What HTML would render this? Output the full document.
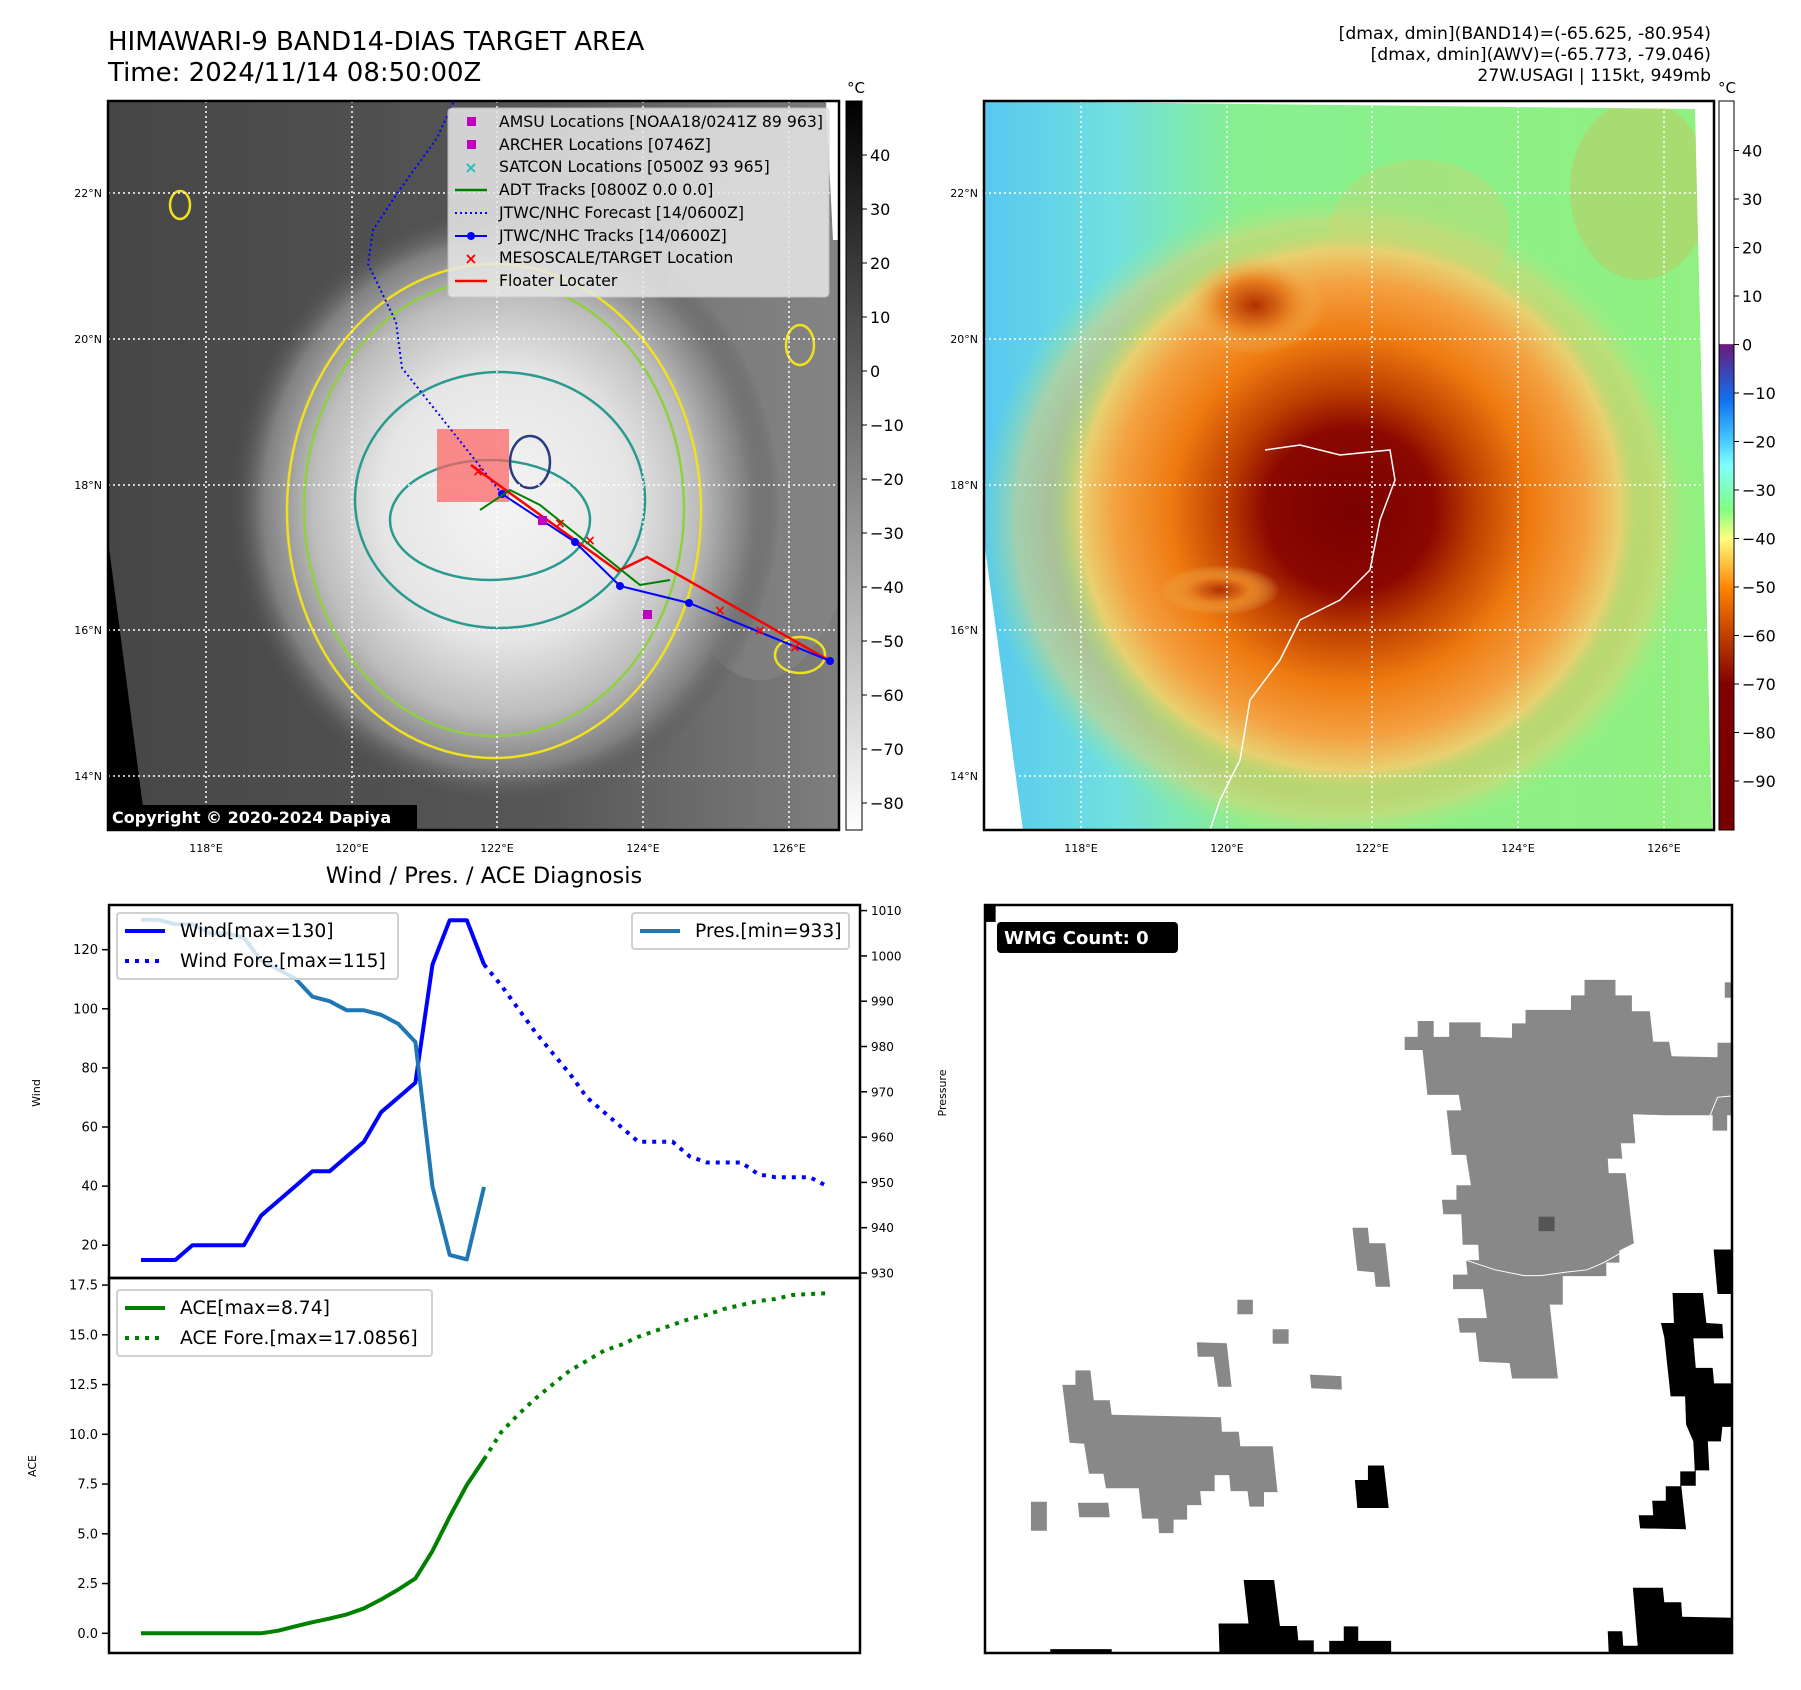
<!DOCTYPE html>
<html><head><meta charset="utf-8">
<style>
html,body{margin:0;padding:0;background:#fff;}
svg{display:block;font-family:"DejaVu Sans","Liberation Sans",sans-serif;}
</style></head>
<body>
<svg id="fig" width="1801" height="1690" viewBox="0 0 1801 1690" xmlns="http://www.w3.org/2000/svg">
<defs>
  <radialGradient id="irStorm" cx="0.5" cy="0.5" r="0.5">
    <stop offset="0" stop-color="#f4f4f4"/>
    <stop offset="0.45" stop-color="#e6e6e6"/>
    <stop offset="0.7" stop-color="#bdbdbd"/>
    <stop offset="0.88" stop-color="#808080"/>
    <stop offset="1" stop-color="#505050" stop-opacity="0"/>
  </radialGradient>
  <linearGradient id="irTop" x1="0" y1="0" x2="1" y2="0">
    <stop offset="0" stop-color="#444"/>
    <stop offset="0.6" stop-color="#5e5e5e"/>
    <stop offset="1" stop-color="#9a9a9a"/>
  </linearGradient>
  <radialGradient id="colStorm" cx="0.5" cy="0.5" r="0.5">
    <stop offset="0" stop-color="#7a0000"/>
    <stop offset="0.28" stop-color="#8a0800"/>
    <stop offset="0.42" stop-color="#c04000"/>
    <stop offset="0.6" stop-color="#ee7a10"/>
    <stop offset="0.78" stop-color="#f4a040"/>
    <stop offset="0.9" stop-color="#e8d070"/>
    <stop offset="1" stop-color="#90f080" stop-opacity="0"/>
  </radialGradient>
  <radialGradient id="colBlob" cx="0.5" cy="0.5" r="0.5">
    <stop offset="0" stop-color="#b03000"/>
    <stop offset="0.5" stop-color="#e88020"/>
    <stop offset="1" stop-color="#f0c060" stop-opacity="0"/>
  </radialGradient>
  <linearGradient id="colBg" x1="0" y1="0" x2="1" y2="0">
    <stop offset="0" stop-color="#58c8f0"/>
    <stop offset="0.18" stop-color="#70e0e0"/>
    <stop offset="0.35" stop-color="#88f090"/>
    <stop offset="1" stop-color="#90f080"/>
  </linearGradient>
  <linearGradient id="cbGray" x1="0" y1="0" x2="0" y2="1">
    <stop offset="0" stop-color="#000"/>
    <stop offset="1" stop-color="#fff"/>
  </linearGradient>
  <linearGradient id="cbCol" x1="0" y1="0" x2="0" y2="1">
    <stop offset="0" stop-color="#fff"/>
    <stop offset="0.333" stop-color="#fff"/>
    <stop offset="0.334" stop-color="#6a1a7a"/>
    <stop offset="0.41" stop-color="#1070f0"/>
    <stop offset="0.46" stop-color="#40c0ff"/>
    <stop offset="0.5" stop-color="#80ffff"/>
    <stop offset="0.56" stop-color="#80ff80"/>
    <stop offset="0.6" stop-color="#ffff80"/>
    <stop offset="0.67" stop-color="#ff8000"/>
    <stop offset="0.733" stop-color="#c04000"/>
    <stop offset="0.8" stop-color="#800000"/>
    <stop offset="1" stop-color="#780000"/>
  </linearGradient>
</defs>

<!-- Titles -->
<text x="108" y="50" font-size="26">HIMAWARI-9 BAND14-DIAS TARGET AREA</text>
<text x="108" y="81" font-size="26">Time: 2024/11/14 08:50:00Z</text>
<g font-size="17.2" text-anchor="end">
  <text x="1711" y="39">[dmax, dmin](BAND14)=(-65.625, -80.954)</text>
  <text x="1711" y="60">[dmax, dmin](AWV)=(-65.773, -79.046)</text>
  <text x="1711" y="81">27W.USAGI | 115kt, 949mb</text>
</g>

<!-- LEFT MAP -->
<g>
  <clipPath id="clipL"><rect x="108" y="101" width="731" height="729"/></clipPath>
  <g clip-path="url(#clipL)">
    <rect x="108" y="101" width="731" height="729" fill="url(#irTop)"/>
    <rect x="108" y="101" width="731" height="729" fill="#4a4a4a" opacity="0.35"/>
    <ellipse cx="760" cy="420" rx="110" ry="260" fill="#8a8a8a" opacity="0.5"/>
    <ellipse cx="505" cy="505" rx="275" ry="300" fill="url(#irStorm)"/>
    <polygon points="108,540 108,830 146,830" fill="#000"/>
    <polygon points="826,101 839,101 839,240 833,240" fill="#fff"/>
    <g fill="none" stroke-width="2.5">
      <ellipse cx="494" cy="511" rx="207" ry="247" stroke="#f0e020"/>
      <ellipse cx="494" cy="508" rx="190" ry="228" stroke="#90d040"/>
      <ellipse cx="500" cy="500" rx="145" ry="128" stroke="#2a9a90"/>
      <ellipse cx="490" cy="520" rx="100" ry="60" stroke="#2a9a90"/>
      <ellipse cx="530" cy="462" rx="20" ry="26" stroke="#283c80"/>
      <ellipse cx="180" cy="205" rx="10" ry="14" stroke="#f0e020"/>
      <ellipse cx="800" cy="345" rx="14" ry="20" stroke="#f0e020"/>
      <ellipse cx="800" cy="655" rx="25" ry="18" stroke="#f0e020"/>
    </g>
    <g stroke="#fff" stroke-width="1.5" stroke-dasharray="2,3">
      <line x1="206" y1="101" x2="206" y2="830"/><line x1="352" y1="101" x2="352" y2="830"/>
      <line x1="497" y1="101" x2="497" y2="830"/><line x1="643" y1="101" x2="643" y2="830"/>
      <line x1="789" y1="101" x2="789" y2="830"/>
      <line x1="108" y1="193" x2="839" y2="193"/><line x1="108" y1="339" x2="839" y2="339"/>
      <line x1="108" y1="485" x2="839" y2="485"/><line x1="108" y1="630" x2="839" y2="630"/>
      <line x1="108" y1="776" x2="839" y2="776"/>
    </g>
    <rect x="437" y="429" width="72" height="73" fill="#ff6060" opacity="0.7"/>
    <polyline points="502,494 402,368 396,322 368,264 373,230 396,195 437,138 454,101" fill="none" stroke="#0000ff" stroke-width="2" stroke-dasharray="2,3"/>
    <polyline points="471,465 618,571 647,557 830,661" fill="none" stroke="#ff0000" stroke-width="2.5"/>
    <polyline points="502,494 575,542 620,586 689,603 830,661" fill="none" stroke="#0000ff" stroke-width="2"/>
    <g fill="#0000ff"><circle cx="502" cy="494" r="4"/><circle cx="575" cy="542" r="4"/><circle cx="620" cy="586" r="4"/><circle cx="689" cy="603" r="4"/><circle cx="830" cy="661" r="4"/></g>
    <polyline points="480,510 510,490 540,505 640,585 670,580" fill="none" stroke="#008000" stroke-width="2"/>
    <g fill="#ff0000" font-size="14" font-weight="bold" text-anchor="middle">
      <text x="478" y="476">×</text><text x="560" y="528">×</text><text x="590" y="545">×</text>
      <text x="720" y="615">×</text><text x="760" y="635">×</text><text x="795" y="652">×</text>
    </g>
    <rect x="538" y="516" width="9" height="9" fill="#c000c0"/><rect x="643" y="610" width="9" height="9" fill="#c000c0"/>
    <rect x="108" y="805" width="309" height="24" fill="#000"/>
    <text x="112" y="823" fill="#fff" font-size="16" font-weight="bold">Copyright © 2020-2024 Dapiya</text>
  </g>
  <rect x="108" y="101" width="731" height="729" fill="none" stroke="#000" stroke-width="2.5"/>
  <g>
    <rect x="448" y="108" width="381" height="189" rx="4" fill="#e8e8e8" opacity="0.85" stroke="#ccc"/>
    <g font-size="15.7">
      <rect x="467" y="117" width="9" height="9" fill="#c000c0"/><text x="499" y="127">AMSU Locations [NOAA18/0241Z 89 963]</text>
      <rect x="467" y="140" width="9" height="9" fill="#c000c0"/><text x="499" y="150">ARCHER Locations [0746Z]</text>
      <text x="471" y="173" fill="#20c0c0" font-weight="bold" text-anchor="middle">×</text><text x="499" y="172">SATCON Locations [0500Z 93 965]</text>
      <line x1="455" y1="190" x2="487" y2="190" stroke="#008000" stroke-width="2.5"/><text x="499" y="195">ADT Tracks [0800Z 0.0 0.0]</text>
      <line x1="455" y1="213" x2="487" y2="213" stroke="#0000ff" stroke-width="2" stroke-dasharray="2,3"/><text x="499" y="218">JTWC/NHC Forecast [14/0600Z]</text>
      <line x1="455" y1="236" x2="487" y2="236" stroke="#0000ff" stroke-width="2"/><circle cx="471" cy="236" r="4" fill="#0000ff"/><text x="499" y="241">JTWC/NHC Tracks [14/0600Z]</text>
      <text x="471" y="264" fill="#ff0000" font-weight="bold" text-anchor="middle">×</text><text x="499" y="263">MESOSCALE/TARGET Location</text>
      <line x1="455" y1="281" x2="487" y2="281" stroke="#ff0000" stroke-width="2.5"/><text x="499" y="286">Floater Locater</text>
    </g>
  </g>
  <g font-size="11" text-anchor="end">
    <text x="102" y="197">22°N</text><text x="102" y="343">20°N</text><text x="102" y="489">18°N</text><text x="102" y="634">16°N</text><text x="102" y="780">14°N</text>
  </g>
  <g font-size="11" text-anchor="middle">
    <text x="206" y="852">118°E</text><text x="352" y="852">120°E</text><text x="497" y="852">122°E</text><text x="643" y="852">124°E</text><text x="789" y="852">126°E</text>
  </g>
</g>

<!-- LEFT COLORBAR -->
<g>
  <rect x="846" y="101" width="16" height="729" fill="url(#cbGray)" stroke="#000" stroke-width="1"/>
  <text x="856" y="93" font-size="15" text-anchor="middle">°C</text>
  <g id="cbL" font-size="16"></g>
</g>

<!-- RIGHT MAP -->
<g>
  <clipPath id="clipR"><polygon points="984,101 1695,109 1712,830 1023,830 984,540"/></clipPath>
  <g clip-path="url(#clipR)">
    <rect x="984" y="101" width="730" height="729" fill="url(#colBg)"/>
    <ellipse cx="1420" cy="230" rx="90" ry="70" fill="#f0c060" opacity="0.25"/>
    <ellipse cx="1640" cy="190" rx="70" ry="90" fill="#f0a040" opacity="0.25"/>
    <ellipse cx="1340" cy="520" rx="360" ry="330" fill="url(#colStorm)" opacity="0.5"/>
    <ellipse cx="1350" cy="510" rx="300" ry="290" fill="url(#colStorm)"/>
    <ellipse cx="1255" cy="305" rx="70" ry="50" fill="url(#colBlob)"/>
    <ellipse cx="1220" cy="590" rx="60" ry="25" fill="url(#colBlob)"/>
    <g stroke="#fff" stroke-width="1.5" stroke-dasharray="2,3">
      <line x1="1081" y1="101" x2="1081" y2="830"/><line x1="1227" y1="101" x2="1227" y2="830"/>
      <line x1="1372" y1="101" x2="1372" y2="830"/><line x1="1518" y1="101" x2="1518" y2="830"/>
      <line x1="1664" y1="101" x2="1664" y2="830"/>
      <line x1="984" y1="193" x2="1714" y2="193"/><line x1="984" y1="339" x2="1714" y2="339"/>
      <line x1="984" y1="485" x2="1714" y2="485"/><line x1="984" y1="630" x2="1714" y2="630"/>
      <line x1="984" y1="776" x2="1714" y2="776"/>
    </g>
    <path d="M1265,450 L1300,445 L1340,455 L1390,450 L1395,480 L1380,520 L1370,570 L1340,600 L1300,620 L1280,660 L1250,700 L1240,760 L1220,800 L1210,830" fill="none" stroke="#fff" stroke-width="1.5"/>
  </g>
  <rect x="984" y="101" width="730" height="729" fill="none" stroke="#000" stroke-width="2.5"/>
  <g font-size="11" text-anchor="end">
    <text x="978" y="197">22°N</text><text x="978" y="343">20°N</text><text x="978" y="489">18°N</text><text x="978" y="634">16°N</text><text x="978" y="780">14°N</text>
  </g>
  <g font-size="11" text-anchor="middle">
    <text x="1081" y="852">118°E</text><text x="1227" y="852">120°E</text><text x="1372" y="852">122°E</text><text x="1518" y="852">124°E</text><text x="1664" y="852">126°E</text>
  </g>
</g>
<g>
  <rect x="1719" y="101" width="15" height="729" fill="url(#cbCol)" stroke="#000" stroke-width="1"/>
  <text x="1727" y="93" font-size="15" text-anchor="middle">°C</text>
  <g id="cbR" font-size="16"></g>
</g>

<!-- WIND / PRES / ACE CHART -->
<text x="484" y="883" font-size="22.5" text-anchor="middle">Wind / Pres. / ACE Diagnosis</text>
<g id="chart"></g>

<!-- WMG PANEL -->
<g>
  <rect x="985" y="905" width="747" height="748" fill="#fff"/>
  <svg x="985" y="905" width="747" height="748" viewBox="0 5 1545 1548" preserveAspectRatio="none">
    <g fill="#888">
      <polygon points="868,278 895,278 895,245 928,245 928,278 960,278 960,248 1025,248 1025,278 1090,280 1090,250 1118,250 1118,222 1212,222 1212,192 1240,192 1240,160 1304,160 1304,192 1338,192 1338,225 1375,225 1382,288 1415,288 1420,318 1515,320 1515,290 1545,290 1545,440 1405,440 1340,438 1345,498 1315,498 1318,530 1288,530 1290,560 1325,560 1342,705 1312,720 1312,745 1285,745 1285,773 1195,773 1195,832 1168,832 1185,985 1090,985 1085,953 1022,950 1015,890 982,890 978,860 1038,860 1030,800 968,800 968,770 998,770 995,740 1022,740 1020,708 988,708 985,645 948,645 945,615 975,615 975,585 1005,585 995,522 965,522 955,430 985,430 980,398 915,398 905,305 868,305"/>
      <rect x="1530" y="165" width="15" height="32"/>
      <polygon points="1505,400 1535,400 1535,472 1505,472"/>
      <polygon points="760,673 792,673 795,705 828,705 838,795 808,795 805,765 770,762"/>
      <rect x="522" y="822" width="32" height="30"/><rect x="595" y="883" width="33" height="30"/>
      <polygon points="438,910 500,912 510,1002 482,1002 473,940 440,940"/>
      <polygon points="672,977 737,980 738,1008 675,1005"/>
      <polygon points="160,998 187,998 187,968 218,968 225,1030 258,1030 262,1060 488,1065 490,1095 525,1095 528,1125 595,1125 605,1220 577,1220 577,1250 547,1250 543,1218 508,1218 505,1185 475,1185 475,1218 445,1218 448,1247 418,1247 418,1277 390,1277 390,1305 360,1305 358,1275 325,1275 318,1212 250,1212 245,1182 215,1182 205,1120 175,1118"/>
      <rect x="95" y="1240" width="33" height="60"/>
      <polygon points="192,1242 255,1242 258,1272 195,1272"/>
    </g>
    <rect x="1145" y="650" width="33" height="30" fill="#555"/>
    <g fill="#000">
      <polygon points="765,1195 792,1195 792,1165 825,1165 835,1253 770,1253"/>
      <polygon points="1507,718 1545,718 1545,810 1515,810"/>
      <polygon points="1422,808 1485,808 1492,870 1525,872 1527,902 1465,902 1470,963 1505,963 1508,995 1545,995 1545,1085 1525,1085 1522,1115 1495,1115 1498,1175 1470,1175 1470,1207 1440,1207 1450,1297 1355,1295 1352,1268 1382,1268 1380,1238 1408,1238 1408,1208 1438,1208 1438,1177 1468,1177 1465,1115 1450,1080 1448,1022 1418,1022 1405,900 1398,870 1425,870"/>
      <polygon points="535,1402 598,1402 610,1497 645,1497 648,1527 680,1527 680,1553 485,1553 483,1492 545,1492"/>
      <polygon points="742,1498 772,1498 772,1528 840,1528 840,1553 712,1553 712,1528 742,1528"/>
      <rect x="135" y="1545" width="127" height="8"/>
      <polygon points="1340,1418 1402,1418 1405,1448 1440,1448 1442,1478 1545,1480 1545,1553 1290,1553 1288,1508 1318,1508 1320,1538 1350,1538"/>
      <rect x="0" y="5" width="22" height="35"/>
    </g>
    <polyline points="995,740 1055,760 1115,772 1150,772 1200,765 1245,760 1280,745 1315,725 1340,708" fill="none" stroke="#fff" stroke-width="2"/>
    <polyline points="1500,440 1515,403 1545,400" fill="none" stroke="#fff" stroke-width="2"/>
  </svg>
  <rect x="985" y="905" width="747" height="748" fill="none" stroke="#000" stroke-width="2.5"/>
  <rect x="997" y="922" width="181" height="31" rx="4" fill="#000"/>
  <text x="1004" y="944" font-size="18" font-weight="bold" fill="#fff">WMG Count: 0</text>
</g>

<script>
// ---- chart data ----
const windObs = [15,15,15,20,20,20,20,30,35,40,45,45,50,55,65,70,75,115,130,130,115];
const windFore = [115,108,100,92,85,78,70,65,60,55,55,55,50,48,48,48,44,43,43,43,40];
const presObs = [1008,1008,1007,1007,1005,1005,1004,999,997,995,991,990,988,988,987,985,981,949,934,933,949];
const aceObs = [0,0,0,0,0,0,0,0,0.13,0.35,0.56,0.74,0.95,1.25,1.7,2.2,2.76,4.14,5.86,7.45,8.74];
const aceFore = [8.74,10.1,11.0,11.8,12.5,13.2,13.7,14.2,14.5,14.9,15.2,15.5,15.8,16.0,16.3,16.5,16.7,16.8,17.0,17.05,17.0856];
const windTicks = [20,40,60,80,100,120];
const presTicks = [930,940,950,960,970,980,990,1000,1010];
const aceTicks = ["0.0","2.5","5.0","7.5","10.0","12.5","15.0","17.5"];
const irTicks = [40,30,20,10,0,-10,-20,-30,-40,-50,-60,-70,-80];
const colTicks = [40,30,20,10,0,-10,-20,-30,-40,-50,-60,-70,-80,-90];

const NS = "http://www.w3.org/2000/svg";
function mk(parent, tag, attrs, text){
  const e = document.createElementNS(NS, tag);
  for (const k in attrs) e.setAttribute(k, attrs[k]);
  if (text !== undefined) e.textContent = text;
  parent.appendChild(e); return e;
}
const X = i => 141 + i*17.15;
const yW = v => 949.7 + (120 - v)*2.955;
const yP = p => 910.6 + (1010 - p)*4.53;
const yA = a => 1633.3 - a*19.9;
const fmt = v => v < 0 ? "\u2212" + Math.abs(v) : String(v);

const cbL = document.getElementById('cbL');
irTicks.forEach(v => {
  const y = 155 + (40 - v)*5.4;
  const t = mk(cbL, 'line', {x1:862, x2:867, y1:y, y2:y, stroke:'#000'});
  
  
  const l = mk(cbL, 'text', {x:870, y:y+6}, fmt(v));
  
  
});
const cbR = document.getElementById('cbR');
colTicks.forEach(v => {
  const y = 150.5 + (40 - v)*4.85;
  const t = mk(cbR, 'line', {x1:1734, x2:1739, y1:y, y2:y, stroke:'#000'});
  
  
  const l = mk(cbR, 'text', {x:1742, y:y+6}, fmt(v));
  
  
});

const g = document.getElementById('chart');
const f1 = mk(g, 'rect', {x:109, y:905, width:751, height:373, fill:'none', stroke:'#000', 'stroke-width':2.5});


const f2 = mk(g, 'rect', {x:109, y:1278, width:751, height:375, fill:'none', stroke:'#000', 'stroke-width':2.5});



windTicks.forEach(v => {
  const y = yW(v);
  mk(g, 'line', {x1:102, x2:109, y1:y, y2:y, stroke:'#000', 'stroke-width':1.5});
  const l = mk(g, 'text', {x:98, y:y+4.5, 'font-size':13, 'text-anchor':'end'}, v);
  
  
});
presTicks.forEach(p => {
  const y = yP(p);
  mk(g, 'line', {x1:860, x2:867, y1:y, y2:y, stroke:'#000', 'stroke-width':1.5});
  const l = mk(g, 'text', {x:871, y:y+4.5, 'font-size':12}, p);
  
  
});
aceTicks.forEach(s => {
  const y = yA(parseFloat(s));
  mk(g, 'line', {x1:102, x2:109, y1:y, y2:y, stroke:'#000', 'stroke-width':1.5});
  const l = mk(g, 'text', {x:98, y:y+4.5, 'font-size':13, 'text-anchor':'end'}, s);
  
  
});
const wl = mk(g, 'text', {x:0, y:0, 'font-size':11, 'text-anchor':'middle', transform:'translate(40,1093) rotate(-90)'}, 'Wind');


const pl = mk(g, 'text', {x:0, y:0, 'font-size':11, 'text-anchor':'middle', transform:'translate(946,1093) rotate(-90)'}, 'Pressure');


const al = mk(g, 'text', {x:0, y:0, 'font-size':11, 'text-anchor':'middle', transform:'translate(36,1466) rotate(-90)'}, 'ACE');



function pts(arr, yf, off){ return arr.map((v,i) => X(i+off).toFixed(1)+','+yf(v).toFixed(1)).join(' '); }

const wO = mk(g, 'polyline', {points:pts(windObs, yW, 0), fill:'none', stroke:'#0000ff', 'stroke-width':4, 'stroke-linejoin':'round'});


const wF = mk(g, 'polyline', {points:pts(windFore, yW, 20), fill:'none', stroke:'#0000ff', 'stroke-width':4, 'stroke-dasharray':'4,6'});


const pO = mk(g, 'polyline', {points:pts(presObs, yP, 0), fill:'none', stroke:'#1f77b4', 'stroke-width':4, 'stroke-linejoin':'round'});


const aO = mk(g, 'polyline', {points:pts(aceObs, yA, 0), fill:'none', stroke:'#008000', 'stroke-width':4, 'stroke-linejoin':'round'});


const aF = mk(g, 'polyline', {points:pts(aceFore, yA, 20), fill:'none', stroke:'#008000', 'stroke-width':4, 'stroke-dasharray':'4,6'});



function legend(name, x, y, w, items){
  const lg = mk(g, 'g', {});
  
  
  mk(lg, 'rect', {x:x, y:y, width:w, height:items.length*30+6, rx:3, fill:'#fff', 'fill-opacity':0.8, stroke:'#d0d0d0', 'stroke-width':2});
  items.forEach((it, k) => {
    const cy = y + 18 + k*30;
    mk(lg, 'line', {x1:x+8, x2:x+48, y1:cy, y2:cy, stroke:it.c, 'stroke-width':4, 'stroke-dasharray':it.d ? '4,6' : 'none'});
    mk(lg, 'text', {x:x+63, y:cy+6, 'font-size':18.7}, it.t);
  });
}
legend('wind-legend', 117, 913, 281, [{c:'#0000ff', t:'Wind[max=130]'}, {c:'#0000ff', d:1, t:'Wind Fore.[max=115]'}]);
legend('pressure-legend', 632, 913, 217, [{c:'#1f77b4', t:'Pres.[min=933]'}]);
legend('ace-legend', 117, 1290, 315, [{c:'#008000', t:'ACE[max=8.74]'}, {c:'#008000', d:1, t:'ACE Fore.[max=17.0856]'}]);
</script>
</svg>
</body></html>
